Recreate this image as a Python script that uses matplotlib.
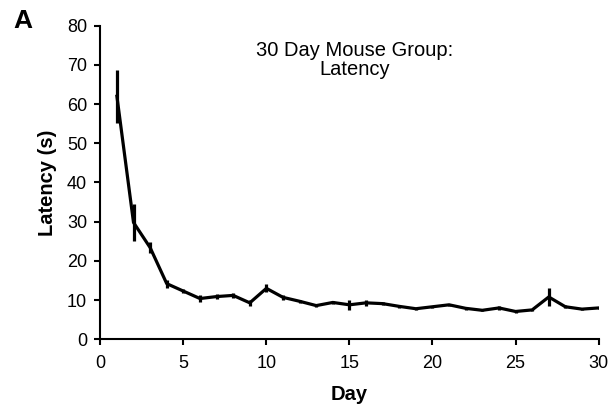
import matplotlib
matplotlib.use("Agg")
import matplotlib.pyplot as plt

plt.rcParams['font.family'] = ['Liberation Sans', 'DejaVu Sans']

days = list(range(1, 31))
latency = [62.0, 29.8, 23.4, 14.2, 12.3, 10.4, 10.9, 11.2, 9.3, 13.0,
           10.7, 9.7, 8.6, 9.4, 8.8, 9.3, 9.1, 8.4, 7.8, 8.3,
           8.8, 7.9, 7.4, 8.0, 7.1, 7.5, 10.8, 8.3, 7.7, 8.0]
sem = [6.7, 4.7, 1.5, 1.0, 0.6, 1.0, 0.7, 0.7, 0.8, 1.0,
       0.6, 0.4, 0.4, 0.4, 1.2, 0.8, 0.4, 0.3, 0.3, 0.3,
       0.3, 0.3, 0.3, 0.4, 0.3, 0.3, 2.4, 0.4, 0.3, 0.3]
title = "30 Day Mouse Group:\nLatency"

fig = plt.figure(figsize=(6.13, 4.09), dpi=100)
ax = fig.add_axes([0.1636, 0.1704, 0.8129, 0.7668])
ax.errorbar(days, latency, yerr=sem, color='black', lw=2.3, elinewidth=2.3, capsize=0)
ax.set_xlim(0, 30)
ax.set_ylim(0, 80)
ax.set_xticks([0, 5, 10, 15, 20, 25, 30])
ax.set_yticks(range(0, 81, 10))
for s in ['top', 'right']:
    ax.spines[s].set_visible(False)
for s in ['left', 'bottom']:
    ax.spines[s].set_linewidth(1.5)
ax.tick_params(direction='out', length=4.5, width=1.5, labelsize=13)
ax.tick_params(axis='x', pad=7)
ax.tick_params(axis='y', pad=5)
ax.set_xlabel("Day", fontsize=14.5, fontweight='bold', labelpad=9)
ax.set_ylabel("Latency (s)", fontsize=14.5, fontweight='bold', labelpad=7)
ax.text(0.511, 0.89, title, transform=ax.transAxes, ha='center', va='center', fontsize=14.5, linespacing=1.0)
fig.text(0.021, 0.948, "A", fontsize=19, fontweight='bold', ha='left', va='center')
fig.savefig("out.png", dpi=100)
